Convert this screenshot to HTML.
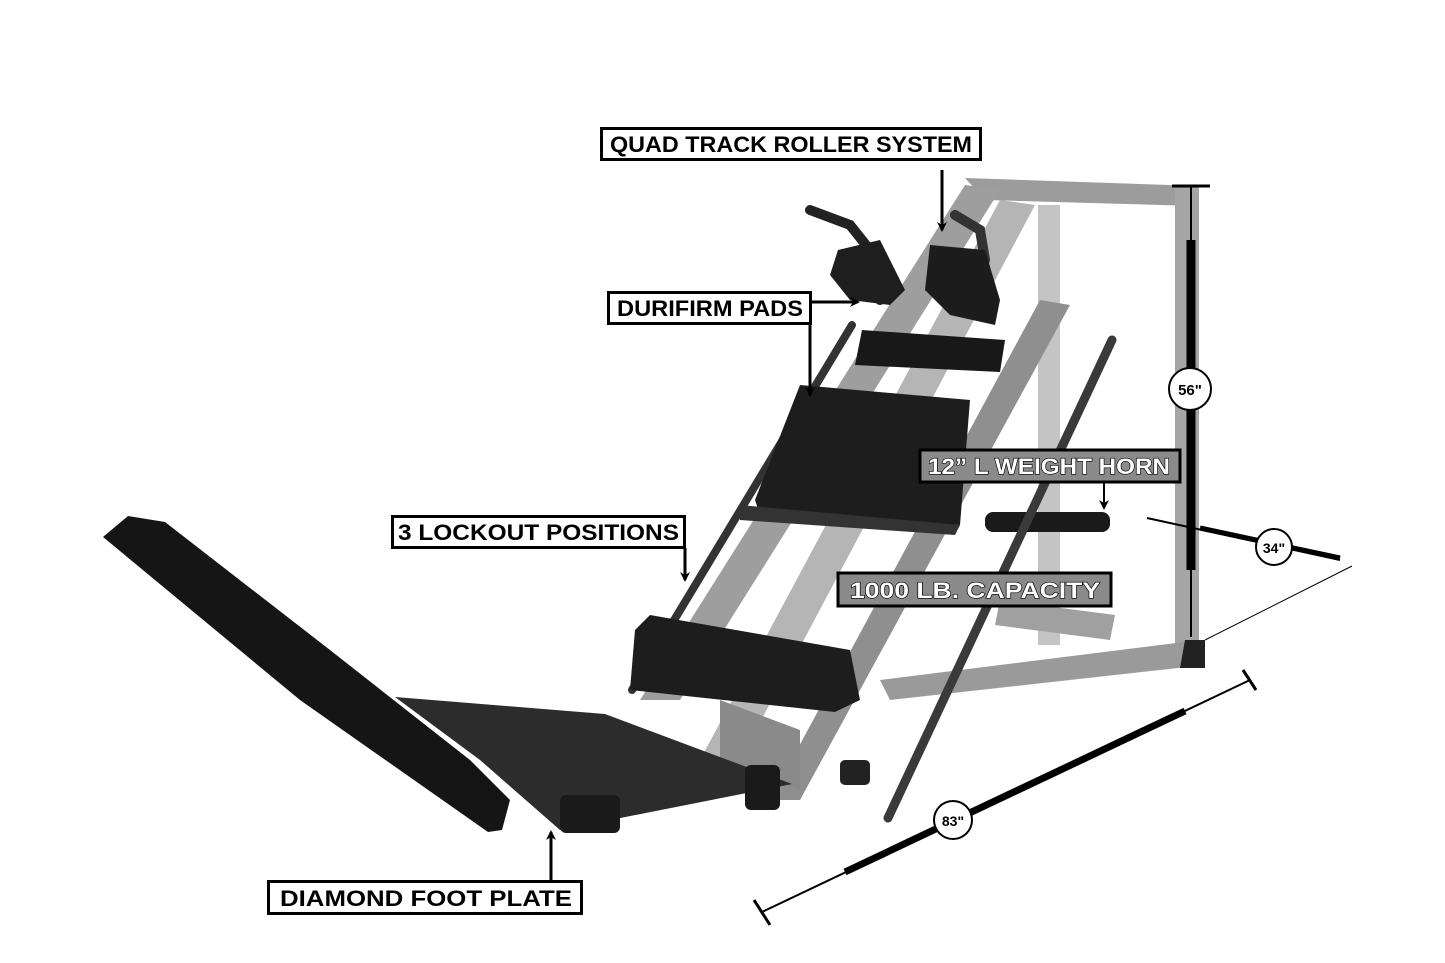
<!DOCTYPE html>
<html><head><meta charset="utf-8"><style>
html,body{margin:0;padding:0;background:#fff}
svg{display:block}
.lb{font-family:"Liberation Sans",sans-serif;font-weight:bold;font-size:22px;fill:#000}
.lw{font-family:"Liberation Sans",sans-serif;font-weight:bold;font-size:22px;fill:#fff;stroke:#000;stroke-width:1.2px;paint-order:stroke}
</style></head><body>
<svg width="1445" height="963" viewBox="0 0 1445 963" xmlns="http://www.w3.org/2000/svg">
<defs>
<marker id="ah" markerWidth="10" markerHeight="10" refX="8" refY="5" orient="auto" markerUnits="userSpaceOnUse"><path d="M0,0 L10,5 L0,10 L3,5 Z" fill="#000"/></marker>
</defs>
<!-- rear frame -->
<polygon points="965,178 1198,186 1198,206 985,200" fill="#9c9c9c"/>
<rect x="1175" y="186" width="24" height="470" fill="#a5a5a5"/>
<rect x="1038" y="205" width="22" height="440" fill="#c4c4c4"/>
<polygon points="880,680 1200,640 1205,665 890,700" fill="#9a9a9a"/>
<polygon points="1185,640 1205,640 1205,668 1180,668" fill="#222"/>
<polygon points="1000,600 1115,615 1110,640 995,625" fill="#a0a0a0"/>
<!-- main diagonal rails -->
<polygon points="965,185 1000,190 680,700 640,700" fill="#9e9e9e"/>
<polygon points="1000,200 1035,205 740,760 700,760" fill="#b5b5b5"/>
<polygon points="1040,300 1070,305 800,800 770,800" fill="#8f8f8f"/>
<polygon points="720,700 800,730 800,790 720,760" fill="#8a8a8a"/>
<!-- horn -->
<rect x="985" y="512" width="125" height="20" rx="8" fill="#1a1a1a"/>
<!-- handles -->
<polyline points="810,210 850,225 870,250 880,300" stroke="#222" stroke-width="10" fill="none" stroke-linecap="round"/>
<polyline points="955,215 980,230 985,260" stroke="#333" stroke-width="10" fill="none" stroke-linecap="round"/>
<line x1="852" y1="325" x2="632" y2="690" stroke="#333" stroke-width="8" stroke-linecap="round"/>
<line x1="1112" y1="340" x2="888" y2="818" stroke="#3a3a3a" stroke-width="9" stroke-linecap="round"/>
<!-- pads -->
<polygon points="838,250 880,240 905,290 890,305 850,300 830,275" fill="#1e1e1e"/>
<polygon points="930,245 985,250 1000,300 995,325 950,315 925,290" fill="#1c1c1c"/>
<polygon points="862,330 1005,340 1000,372 855,365" fill="#181818"/>
<polygon points="800,385 970,400 960,525 760,515 755,500" fill="#1d1d1d"/>
<polygon points="740,505 960,525 955,535 740,520" fill="#333"/>
<polygon points="650,615 850,650 860,700 835,712 630,690 635,630" fill="#1d1d1d"/>
<!-- back pad -->
<polygon points="103,537 128,516 165,522 330,650 470,760 510,800 502,830 488,832 300,700" fill="#151515"/>
<!-- foot plate -->
<polygon points="395,697 605,714 792,784 560,830 480,760" fill="#2c2c2c"/>
<rect x="560" y="795" width="60" height="38" rx="6" fill="#1a1a1a"/>
<rect x="745" y="765" width="35" height="45" rx="6" fill="#1a1a1a"/>
<rect x="840" y="760" width="30" height="25" rx="5" fill="#222"/>
<!-- labels -->
<rect x="601.5" y="128.5" width="379" height="31" fill="#fff" stroke="#000" stroke-width="3"/>
<text class="lb" x="610" y="152" textLength="362" lengthAdjust="spacingAndGlyphs">QUAD TRACK ROLLER SYSTEM</text>
<line x1="942" y1="170" x2="942" y2="230" stroke="#000" stroke-width="3" marker-end="url(#ah)"/>
<rect x="608.5" y="292.5" width="202" height="31" fill="#fff" stroke="#000" stroke-width="3"/>
<text class="lb" x="617" y="316" textLength="186" lengthAdjust="spacingAndGlyphs">DURIFIRM PADS</text>
<line x1="810" y1="302" x2="858" y2="302" stroke="#000" stroke-width="3" marker-end="url(#ah)"/>
<line x1="810" y1="324" x2="810" y2="395" stroke="#000" stroke-width="3" marker-end="url(#ah)"/>
<rect x="392.5" y="516.5" width="292" height="31" fill="#fff" stroke="#000" stroke-width="3"/>
<text class="lb" x="398" y="540" textLength="281" lengthAdjust="spacingAndGlyphs">3 LOCKOUT POSITIONS</text>
<line x1="685" y1="548" x2="685" y2="580" stroke="#000" stroke-width="3" marker-end="url(#ah)"/>
<rect x="268.5" y="881.5" width="313" height="32" fill="#fff" stroke="#000" stroke-width="3"/>
<text class="lb" x="280" y="906" textLength="292" lengthAdjust="spacingAndGlyphs">DIAMOND FOOT PLATE</text>
<line x1="551" y1="880" x2="551" y2="832" stroke="#000" stroke-width="3" marker-end="url(#ah)"/>
<rect x="920" y="450" width="260" height="32" fill="#8a8a8a" stroke="#000" stroke-width="3"/>
<text class="lw" x="928" y="474" textLength="242" lengthAdjust="spacingAndGlyphs">12” L WEIGHT HORN</text>
<line x1="1104" y1="482" x2="1104" y2="508" stroke="#000" stroke-width="2" marker-end="url(#ah)"/>
<rect x="838" y="573" width="273" height="33" fill="#8a8a8a" stroke="#000" stroke-width="3"/>
<text class="lw" x="850" y="598" textLength="250" lengthAdjust="spacingAndGlyphs">1000  LB. CAPACITY</text>
<!-- dimensions -->
<line x1="1191" y1="186" x2="1191" y2="637" stroke="#000" stroke-width="2"/>
<line x1="1172" y1="186" x2="1210" y2="186" stroke="#000" stroke-width="3"/>
<line x1="1191" y1="240" x2="1191" y2="570" stroke="#000" stroke-width="9"/>
<circle cx="1190" cy="389" r="21" fill="#fff" stroke="#000" stroke-width="2"/>
<text class="lb" x="1190" y="395" text-anchor="middle" style="font-size:15px">56"</text>
<line x1="1147" y1="518" x2="1340" y2="560" stroke="#000" stroke-width="2"/>
<line x1="1200" y1="528" x2="1340" y2="558" stroke="#000" stroke-width="5"/>
<line x1="1352" y1="566" x2="1205" y2="640" stroke="#000" stroke-width="1"/>
<circle cx="1274" cy="547" r="18" fill="#fff" stroke="#000" stroke-width="2"/>
<text class="lb" x="1274" y="553" text-anchor="middle" style="font-size:14px">34"</text>
<line x1="762" y1="912" x2="1250" y2="680" stroke="#000" stroke-width="2"/>
<line x1="754" y1="900" x2="770" y2="925" stroke="#000" stroke-width="3"/>
<line x1="1243" y1="670" x2="1256" y2="690" stroke="#000" stroke-width="3"/>
<line x1="845" y1="872" x2="1185" y2="711" stroke="#000" stroke-width="7"/>
<circle cx="953" cy="820" r="19" fill="#fff" stroke="#000" stroke-width="2"/>
<text class="lb" x="953" y="826" text-anchor="middle" style="font-size:14px">83"</text>
</svg>
</body></html>
